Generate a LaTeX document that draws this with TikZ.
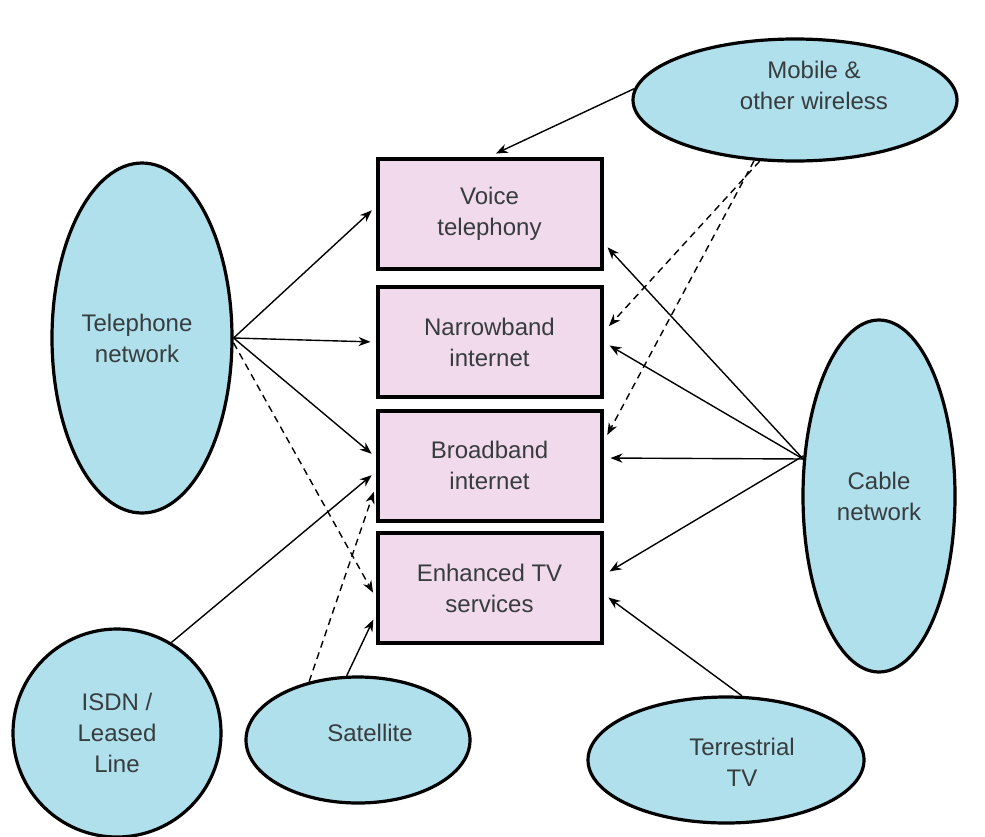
\documentclass[tikz,border=0pt]{standalone}
\usepackage{fontspec}
\setmainfont{Liberation Sans}
\usetikzlibrary{shapes.geometric,arrows.meta}
\definecolor{netblue}{RGB}{176,224,236}
\definecolor{svcpink}{RGB}{240,218,236}
\definecolor{txtgray}{RGB}{55,60,62}
\begin{document}
\begin{tikzpicture}[x=0.5pt, y=-0.5pt,
    net/.style={ellipse, draw, line width=1.6pt, fill=netblue, text=txtgray, align=center, inner sep=0pt},
    nettext/.style={text=txtgray, align=center},
    svc/.style={rectangle, draw, line width=2pt, fill=svcpink, text=txtgray, align=center,
      minimum width=112pt, minimum height=55pt},
    link/.style={line width=0.7pt, -{Stealth[length=6pt,width=4.6pt]}, shorten >=2.5pt},
    maybe/.style={link, dash pattern=on 3.5pt off 2.5pt}]
  \useasboundingbox (0,0) rectangle (985,836);
  \fontsize{12}{15.5}\selectfont
  % services in the middle
  \node[svc] (voice) at (489.5,213.5) {Voice\\telephony};
  \node[svc] (narrow) at (489.5,342) {Narrowband\\internet};
  \node[svc] (broad) at (489.5,465.5) {Broadband\\internet};
  \node[svc] (enh) at (489.5,588) {Enhanced TV\\services};
  % networks round them
  \node[net, minimum width=90pt, minimum height=175pt,
    label={[nettext, xshift=-2.5pt]center:Telephone\\network}] (tel) at (142,338) {};
  \node[net, minimum width=162pt, minimum height=61pt,
    label={[nettext, xshift=9.5pt, yshift=7.5pt]center:Mobile \&\\other wireless}] (mob) at (795,100) {};
  \node[net, minimum width=76pt, minimum height=176pt] (cab) at (879,496) {Cable\\network};
  \node[net, minimum width=104pt, minimum height=104pt] (isdn) at (117,733) {ISDN /\\Leased\\Line};
  \node[net, minimum width=112pt, minimum height=63pt,
    label={[nettext, xshift=6pt, yshift=3.5pt]center:Satellite}] (sat) at (358,740) {};
  \node[net, minimum width=138pt, minimum height=63pt,
    label={[nettext, xshift=8pt, yshift=-1pt]center:Terrestrial\\TV}] (ter) at (726,760) {};
  % telephone
  \draw[link] (tel.east) -- ([yshift=3.25pt]voice.west);
  \draw[link] (tel.east) -- (narrow.west);
  \draw[link] (tel.east) -- ([yshift=4.25pt]broad.west);
  \draw[maybe] (tel.-3) -- ([yshift=-4.5pt]enh.west);
  % isdn and satellite
  \draw[link] (isdn.59) -- ([yshift=-3.25pt]broad.west);
  \draw[maybe] (sat.130) -- ([yshift=-10.75pt]broad.west);
  \draw[link] (sat.100) -- ([yshift=-13.5pt]enh.west);
  % mobile
  \draw[link, shorten >=3.5pt] (mob.176) -- (voice.north);
  \draw[maybe, shorten >=4pt] (mob.240) -- ([yshift=5pt]narrow.east);
  \draw[maybe, shorten >=4pt] (mob.236) -- ([yshift=11.75pt]broad.east);
  % cable and terrestrial
  \draw[link, shorten >=3pt] (cab.154) -- ([yshift=-14.75pt]voice.east);
  \draw[link, shorten >=3.5pt] (cab.154) -- (narrow.east);
  \draw[link, shorten >=3.5pt] (cab.154) -- ([yshift=3.75pt]broad.east);
  \draw[link, shorten >=3.5pt] (cab.152) -- ([yshift=6.5pt]enh.east);
  \draw[link, shorten >=3pt] (ter.76) -- ([yshift=-3pt]enh.east);
\end{tikzpicture}
\end{document}
